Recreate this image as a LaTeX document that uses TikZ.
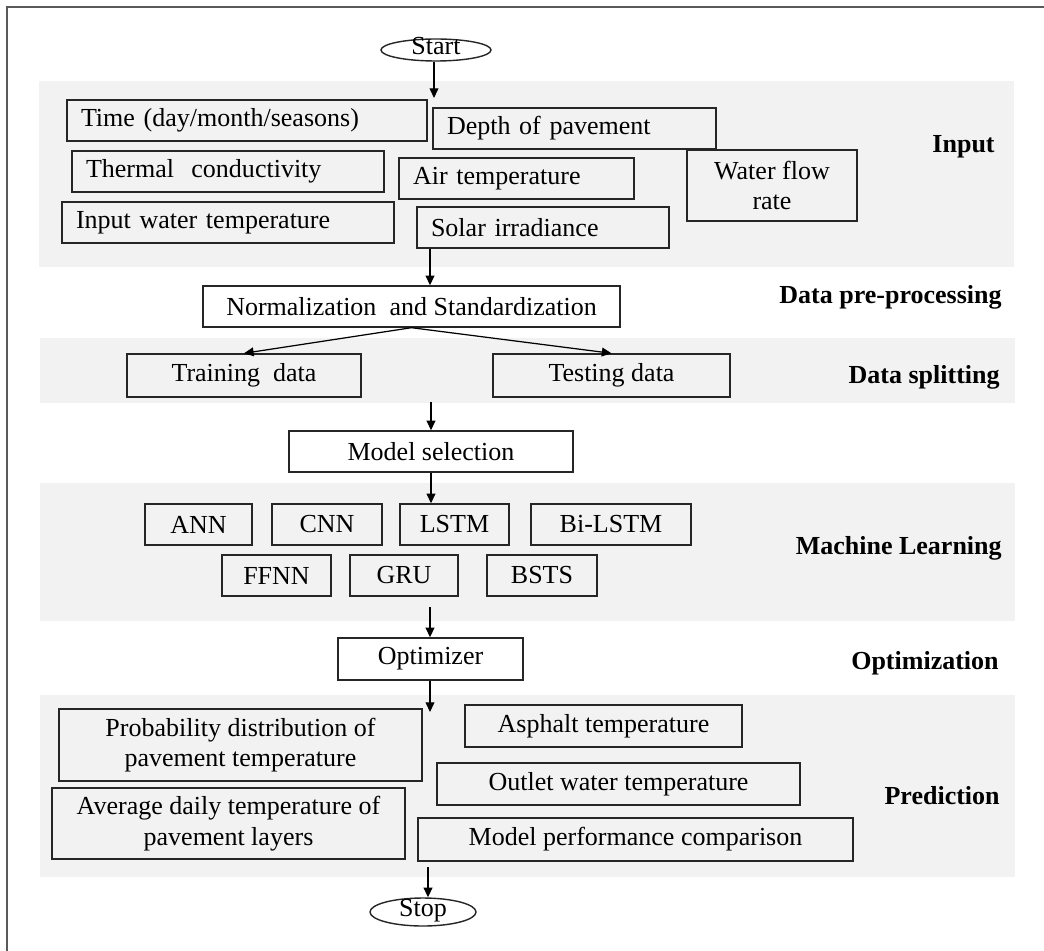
\documentclass[tikz,border=0pt]{standalone}
\usepackage{fontspec}
\setmainfont{Liberation Serif}
\usetikzlibrary{arrows.meta}
\usetikzlibrary{shapes.geometric}
\usetikzlibrary{shadows}

\begin{document}
\begin{tikzpicture}[font=\fontsize{14.8}{17.5}\selectfont,
  band/.style={rectangle, fill=black!5, draw=none, inner sep=0pt, anchor=north west},
  box/.style={rectangle, draw=black!85, line width=0.8pt, fill=black!5, minimum height=0.82cm, inner sep=0pt,
    drop shadow={shadow xshift=0.7pt, shadow yshift=-0.7pt, opacity=0.3, fill=black!40}},
  whitebox/.style={box, fill=white},
  leftbox/.style={box, align=left, inner xsep=0.28cm},
  term/.style={ellipse, draw=black!85, line width=0.8pt, fill=white, inner sep=0pt, text height=1.2ex, text depth=0pt},
  phase/.style={font=\fontsize{14.8}{17.5}\selectfont\bfseries, anchor=east, inner sep=0pt},
  arrow/.style={line width=0.7pt, -{Triangle[length=5.5pt, width=5pt]}}]
\useasboundingbox (0,0) rectangle (20.88,-19);
\draw [black!65, line width=1.1pt] (0.14,-19.2) -- (0.14,-0.14) -- (21.0,-0.14);
% bands
\node [band, minimum width=19.5cm, minimum height=3.72cm] (inBand) at (0.78,-1.62) {};
\node [band, minimum width=19.5cm, minimum height=1.30cm] (splitBand) at (0.80,-6.76) {};
\node [band, minimum width=19.5cm, minimum height=2.76cm] (mlBand) at (0.80,-9.66) {};
\node [band, minimum width=19.5cm, minimum height=3.64cm] (predBand) at (0.80,-13.90) {};
% input
\node [term, minimum width=2.2cm, minimum height=0.44cm] (start) at (8.72,-1.00) {Start};
\node [leftbox, text width=6.64cm] (time) at (4.94,-2.41) {Time (day/month/seasons)};
\node [leftbox, text width=5.10cm] (depth) at (11.49,-2.57) {Depth of pavement};
\node [leftbox, text width=5.68cm] (thermal) at (4.56,-3.43) {Thermal\ \ conductivity};
\node [leftbox, text width=4.14cm] (air) at (10.33,-3.57) {Air temperature};
\node [leftbox, text width=6.08cm] (inwater) at (4.56,-4.45) {Input water temperature};
\node [leftbox, text width=4.48cm] (solar) at (10.86,-4.55) {Solar irradiance};
\node [box, align=center, minimum width=3.4cm, minimum height=1.42cm] (flow) at (15.44,-3.71) {Water flow\\rate};
\node [phase] (lInput) at (19.90,-2.94) {Input};
% pre-processing and splitting
\node [whitebox, minimum width=8.34cm] (norm) at (8.23,-6.13) {Normalization\ \ and Standardization};
\node [phase] (lPre) at (20.04,-5.94) {Data pre-processing};
\node [box, minimum width=4.68cm, minimum height=0.86cm] (train) at (4.88,-7.51) {Training\ \ data};
\node [box, minimum width=4.74cm, minimum height=0.86cm] (test) at (12.23,-7.51) {Testing data};
\node [phase] (lSplit) at (20.0,-7.54) {Data splitting};
\node [whitebox, minimum width=5.68cm] (msel) at (8.62,-9.03) {Model selection};
% machine learning
\node [box, minimum width=2.14cm] (ann) at (3.97,-10.49) {ANN};
\node [box, minimum width=2.20cm] (cnn) at (6.54,-10.49) {CNN};
\node [box, minimum width=2.18cm] (lstm) at (9.09,-10.49) {LSTM};
\node [box, minimum width=3.20cm] (bilstm) at (12.22,-10.49) {Bi-LSTM};
\node [box, minimum width=2.18cm] (ffnn) at (5.53,-11.51) {FFNN};
\node [box, minimum width=2.16cm] (gru) at (8.08,-11.51) {GRU};
\node [box, minimum width=2.20cm] (bsts) at (10.84,-11.51) {BSTS};
\node [phase] (lML) at (20.04,-10.96) {Machine Learning};
% optimization
\node [whitebox, minimum width=3.70cm, minimum height=0.84cm] (opt) at (8.61,-13.18) {Optimizer};
\node [phase] (lOpt) at (19.98,-13.26) {Optimization};
% prediction
\node [box, align=center, minimum width=7.26cm, minimum height=1.44cm] (prob) at (4.81,-14.90) {Probability distribution of\\pavement temperature};
\node [box, minimum width=5.54cm, minimum height=0.84cm] (asphalt) at (12.07,-14.52) {Asphalt temperature};
\node [box, minimum width=7.26cm, minimum height=0.84cm] (outlet) at (12.37,-15.68) {Outlet water temperature};
\node [box, align=center, minimum width=7.06cm, minimum height=1.42cm] (avg) at (4.57,-16.47) {Average daily temperature of\\pavement layers};
\node [box, minimum width=8.70cm, minimum height=0.86cm] (perf) at (12.71,-16.79) {Model performance comparison};
\node [phase] (lPred) at (20.0,-15.92) {Prediction};
\node [term, minimum width=2.12cm, minimum height=0.56cm] (stop) at (8.46,-18.24) {Stop};
% connectors
\coordinate (inTop) at (8.68,-1.96);
\coordinate (axis) at (8.60,0);
\coordinate (mlOut) at (8.60,-12.14);
\coordinate (predIn) at (8.60,-14.24);
\coordinate (predOut) at (8.56,-17.34);
\draw [arrow] (start.south -| inTop) -- (inTop);
\draw [arrow] (solar.south -| axis) -- (norm.north -| axis);
\draw [arrow] (norm.south) -- (train.north);
\draw [arrow] (norm.south) -- (test.north);
\draw [arrow] ([yshift=0.04cm]splitBand.south -| msel) -- (msel.north);
\draw [arrow] (msel.south) -- (msel.south |- lstm.north);
\draw [arrow] (mlOut) -- (mlOut |- opt.north);
\draw [arrow] (opt.south -| predIn) -- (predIn);
\draw [arrow] (predOut) -- (predOut |- stop.north);
\end{tikzpicture}
\end{document}
